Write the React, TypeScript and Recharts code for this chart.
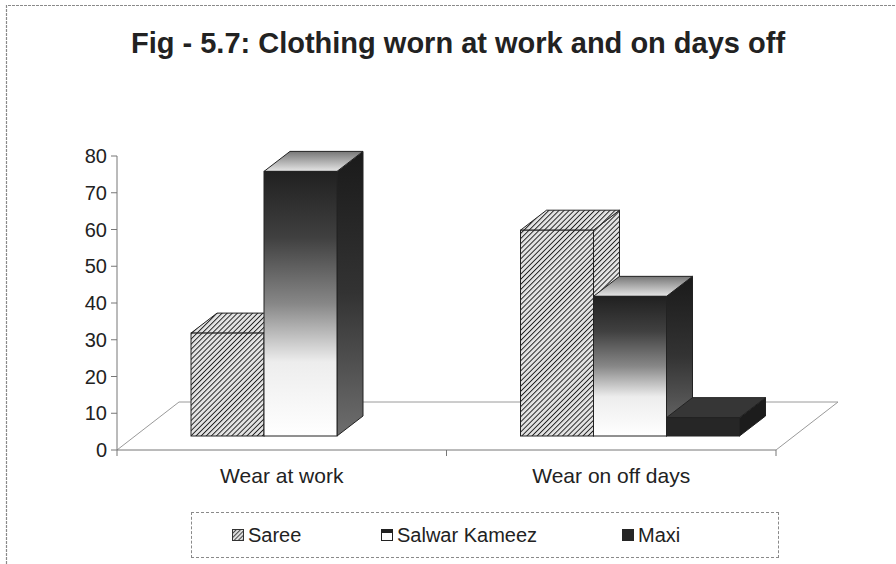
import React from 'react';
import { BarChart, Bar, XAxis, YAxis, Legend, Customized } from 'recharts';

// ---------- data ----------
const categories = ['Wear at work', 'Wear on off days'];
const seriesKeys = ['saree', 'salwar', 'maxi'];
const seriesNames = ['Saree', 'Salwar Kameez', 'Maxi'];
const sareeValues = [28, 56];
const salwarValues = [72, 38];
const maxiValues = [0, 5];
const yTicks = [0, 10, 20, 30, 40, 50, 60, 70, 80];
const titleText = 'Fig - 5.7: Clothing worn at work and on days off';

const data = categories.map((c, i) => ({
  category: c,
  saree: sareeValues[i],
  salwar: salwarValues[i],
  maxi: maxiValues[i],
}));

// ---------- layout ----------
const W = 896;
const H = 564;
const MARGIN = { top: 156, right: 120, bottom: 74, left: 57 };
const YAXIS_W = 60;
const XAXIS_H = 40;
const PLOT_L = MARGIN.left + YAXIS_W;
const PLOT_R = W - MARGIN.right;
const PLOT_B = H - MARGIN.bottom - XAXIS_H;
const FLOOR_DX = 62;
const FLOOR_DY = -48;
const FRONT_DX = 19;
const FRONT_DY = -14;
const DEPTH_DX = 26;
const DEPTH_DY = -20;
const FONT = '"Liberation Sans", Arial, Helvetica, sans-serif';
const TEXT = '#222';

type Kind = 'saree' | 'salwar' | 'maxi';
const FILLS: Record<Kind, { front: string; top: string; side: string }> = {
  saree: { front: 'url(#hatch)', top: 'url(#hatch)', side: 'url(#hatch)' },
  salwar: { front: 'url(#salwarFront)', top: 'url(#salwarTop)', side: 'url(#salwarSide)' },
  maxi: { front: '#262626', top: '#363636', side: '#1c1c1c' },
};

function Box3D(props: any) {
  const { x, y, width, height, kind } = props;
  const w = Number(width);
  const h = Number(height);
  if (!h || h < 0.5) return null;
  const fx = Number(x) + FRONT_DX;
  const fy = Number(y) + FRONT_DY;
  const f = FILLS[kind as Kind];
  const top = [
    [fx, fy],
    [fx + DEPTH_DX, fy + DEPTH_DY],
    [fx + w + DEPTH_DX, fy + DEPTH_DY],
    [fx + w, fy],
  ]
    .map((p) => p.join(','))
    .join(' ');
  const side = [
    [fx + w, fy],
    [fx + w + DEPTH_DX, fy + DEPTH_DY],
    [fx + w + DEPTH_DX, fy + h + DEPTH_DY],
    [fx + w, fy + h],
  ]
    .map((p) => p.join(','))
    .join(' ');
  return (
    <g>
      <polygon points={side} fill={f.side} stroke="#222" strokeWidth={1} strokeLinejoin="round" />
      <polygon points={top} fill={f.top} stroke="#222" strokeWidth={1} strokeLinejoin="round" />
      <rect x={fx} y={fy} width={w} height={h} fill={f.front} stroke="#222" strokeWidth={1} />
    </g>
  );
}

function Decor() {
  const fl = PLOT_L;
  const fr = PLOT_R;
  const fb = PLOT_B;
  const mid = (fl + fr) / 2;
  return (
    <g>
      <path d={`M6.5,${H} L6.5,5.5 L${W},5.5`} fill="none" stroke="#8a8a8a" strokeWidth={1.2} strokeDasharray="3 1" />
      <text x={458} y={53} textAnchor="middle" fontFamily={FONT} fontWeight="bold" fontSize={29} fill={TEXT}>
        {titleText}
      </text>
      <path
        d={`M${fl},${fb} L${fl + FLOOR_DX},${fb + FLOOR_DY} L${fr + FLOOR_DX},${fb + FLOOR_DY} L${fr},${fb}`}
        fill="none"
        stroke="#9a9a9a"
        strokeWidth={1}
      />
      {[fl, mid, fr].map((xx, i) => (
        <line key={i} x1={xx} y1={fb} x2={xx} y2={fb + 6} stroke="#777" strokeWidth={1} />
      ))}
    </g>
  );
}

function LegendIcon({ kind }: { kind: Kind }) {
  if (kind === 'saree')
    return (
      <svg width={12} height={12} style={{ display: 'block' }}>
        <rect x={0.5} y={0.5} width={11} height={11} fill="url(#hatchSmall)" stroke="#333" />
      </svg>
    );
  if (kind === 'salwar')
    return (
      <svg width={12} height={12} style={{ display: 'block' }}>
        <rect x={0.5} y={0.5} width={11} height={11} fill="#fff" stroke="#222" />
        <rect x={0.5} y={0.5} width={11} height={3.5} fill="#222" />
      </svg>
    );
  return (
    <svg width={12} height={12} style={{ display: 'block' }}>
      <rect x={0} y={0} width={12} height={12} fill="#262626" />
    </svg>
  );
}

const LEGEND_LEFT = [40, 189, 430];

function renderLegend(props: any) {
  const payload = [...(props.payload || [])].sort(
    (a: any, b: any) => seriesKeys.indexOf(String(a.dataKey)) - seriesKeys.indexOf(String(b.dataKey))
  );
  return (
    <div
      style={{
        position: 'relative',
        width: 588,
        height: 46,
        boxSizing: 'border-box',
        border: '1px dashed #8a8a8a',
        background: '#fff',
        fontFamily: FONT,
        fontSize: 20,
        color: TEXT,
      }}
    >
      {payload.map((p: any, i: number) => (
        <div
          key={i}
          style={{
            position: 'absolute',
            left: LEGEND_LEFT[i],
            top: 0,
            height: 44,
            display: 'flex',
            alignItems: 'center',
            whiteSpace: 'nowrap',
          }}
        >
          <LegendIcon kind={p.dataKey as Kind} />
          <span style={{ marginLeft: 4 }}>{p.value}</span>
        </div>
      ))}
    </div>
  );
}

export default function App() {
  return (
    <div style={{ position: 'absolute', left: 0, top: 0, width: W, height: H, background: '#fff' }}>
      <svg width={0} height={0} style={{ position: 'absolute' }}>
        <defs>
          <pattern id="hatchSmall" patternUnits="userSpaceOnUse" width="3" height="3" patternTransform="rotate(45)">
            <rect width="3" height="3" fill="#ddd" />
            <line x1="0" y1="0" x2="0" y2="3" stroke="#222" strokeWidth="1.6" />
          </pattern>
        </defs>
      </svg>
      <BarChart width={W} height={H} data={data} margin={MARGIN} barCategoryGap={55} barGap={0}>
        <defs>
          <pattern id="hatch" patternUnits="userSpaceOnUse" width="3.6" height="3.6" patternTransform="rotate(45)">
            <rect width="3.6" height="3.6" fill="#e4e4e4" />
            <line x1="0" y1="0" x2="0" y2="3.6" stroke="#1e1e1e" strokeWidth="1.9" />
          </pattern>
          <linearGradient id="salwarFront" x1="0" y1="0" x2="0" y2="1">
            <stop offset="0" stopColor="#202020" />
            <stop offset="0.25" stopColor="#404040" />
            <stop offset="0.5" stopColor="#878787" />
            <stop offset="0.72" stopColor="#ededed" />
            <stop offset="1" stopColor="#ffffff" />
          </linearGradient>
          <linearGradient id="salwarSide" x1="0" y1="0" x2="0" y2="1">
            <stop offset="0" stopColor="#1a1a1a" />
            <stop offset="0.5" stopColor="#333333" />
            <stop offset="1" stopColor="#6e6e6e" />
          </linearGradient>
          <linearGradient id="salwarTop" x1="0" y1="0" x2="0" y2="1">
            <stop offset="0" stopColor="#777" />
            <stop offset="1" stopColor="#e6e6e6" />
          </linearGradient>
        </defs>
        <Customized component={<Decor />} />
        <XAxis
          dataKey="category"
          height={XAXIS_H}
          axisLine={{ stroke: '#777' }}
          tickLine={false}
          tickSize={6}
          tickMargin={12}
          tick={{ fill: TEXT, fontSize: 21, fontFamily: FONT }}
          interval={0}
        />
        <YAxis
          width={YAXIS_W}
          domain={[0, 80]}
          ticks={yTicks}
          interval={0}
          axisLine={{ stroke: '#777' }}
          tickLine={{ stroke: '#777' }}
          tickSize={6}
          tickMargin={4}
          tick={{ fill: TEXT, fontSize: 20, fontFamily: FONT }}
        />
        <Legend
          layout="horizontal"
          verticalAlign="middle"
          align="center"
          content={renderLegend}
          wrapperStyle={{ left: 191, top: 512, width: 588, height: 46 }}
        />
        <Bar dataKey="saree" name={seriesNames[0]} isAnimationActive={false} shape={(p: any) => <Box3D {...p} kind="saree" />} />
        <Bar dataKey="salwar" name={seriesNames[1]} isAnimationActive={false} shape={(p: any) => <Box3D {...p} kind="salwar" />} />
        <Bar dataKey="maxi" name={seriesNames[2]} isAnimationActive={false} shape={(p: any) => <Box3D {...p} kind="maxi" />} />
      </BarChart>
    </div>
  );
}
